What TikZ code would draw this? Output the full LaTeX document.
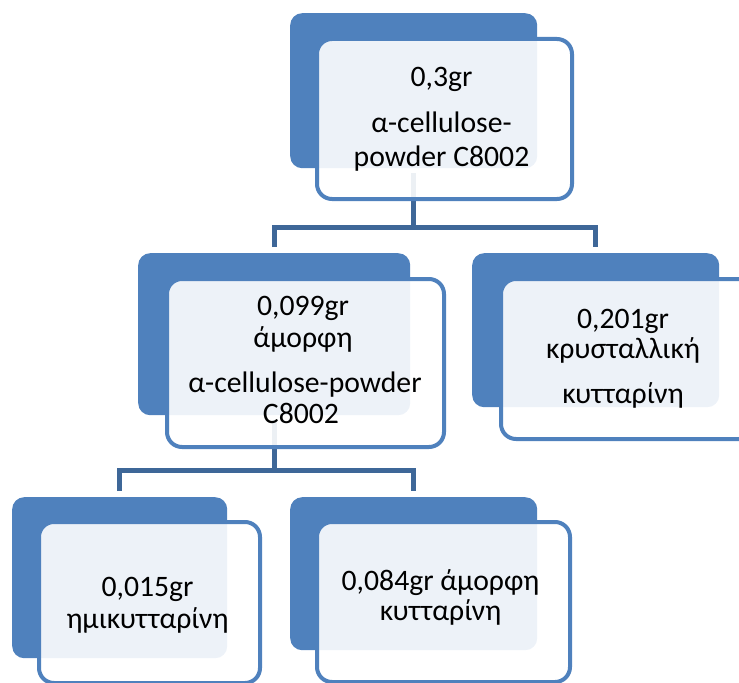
\documentclass[tikz,border=0pt]{standalone}
\usepackage{fontspec}
\setmainfont{Carlito}
\definecolor{boxblue}{RGB}{79,129,189}
\definecolor{linkblue}{RGB}{62,103,152}
\begin{document}
\begin{tikzpicture}[x=1bp,y=-1bp,
  backbox/.style={fill=boxblue, rounded corners=12bp, anchor=north west, inner sep=0pt},
  frontbox/.style={draw=boxblue, line width=4bp, fill=white, fill opacity=0.9, rounded corners=15bp, anchor=north west, inner sep=0pt},
  link/.style={draw=linkblue, line width=5bp},
  lbl/.style={anchor=base, inner sep=0pt, text=black, font=\fontsize{29.7bp}{32bp}\selectfont}]
\useasboundingbox (0,0) rectangle (739,683);
% back boxes
\node[backbox, minimum width=247bp, minimum height=155bp] (b1) at (290,13) {};
\node[backbox, minimum width=272bp, minimum height=162bp] (b2) at (138,253) {};
\node[backbox, minimum width=247bp, minimum height=154bp] (b3) at (472,253) {};
\node[backbox, minimum width=215bp, minimum height=161bp] (b4) at (12,497) {};
\node[backbox, minimum width=247bp, minimum height=153bp] (b5) at (290,497) {};
% connectors
\coordinate (j1) at (b1.south |- 0,227);
\coordinate (j2) at (b2.south |- 0,470);
\draw[link, shorten <=5bp] (b1.south) -- (j1);
\draw[link, shorten <=6bp, shorten >=6bp] (b2.north) |- (j1) -| (b3.north);
\draw[link, shorten <=5bp] (b2.south) -- (j2);
\draw[link, shorten <=6bp, shorten >=6bp] (b4.north) |- (j2) -| (b5.north);
% front boxes
\node[frontbox, minimum width=255bp, minimum height=160bp] (f1) at (315,37) {};
\node[frontbox, minimum width=277bp, minimum height=168bp] (f2) at (165,277) {};
\node[frontbox, minimum width=253bp, minimum height=160bp] (f3) at (499,277) {};
\node[frontbox, minimum width=221bp, minimum height=161bp] (f4) at (37,520) {};
\node[frontbox, minimum width=253bp, minimum height=160bp] (f5) at (315,520) {};
% texts
\node[lbl] (t1a) at (441.5,87) {0,3gr};
\node[lbl] (t1b) at (441.5,133) {α-cellulose-};
\node[lbl] (t1c) at (441.5,166) {powder C8002};
\node[lbl] (t2a) at (303,315) {0,099gr};
\node[lbl] (t2b) at (303,347) {άμορφη};
\node[lbl] (t2c) at (305,392) {α-cellulose-powder};
\node[lbl] (t2d) at (301,423) {C8002};
\node[lbl] (t3a) at (623,328) {0,201gr};
\node[lbl] (t3b) at (623,358) {κρυσταλλική};
\node[lbl] (t3c) at (623,403) {κυτταρίνη};
\node[lbl] (t4a) at (147.5,596) {0,015gr};
\node[lbl] (t4b) at (147.5,628) {ημικυτταρίνη};
\node[lbl] (t5a) at (440.5,590) {0,084gr άμορφη};
\node[lbl] (t5b) at (440.5,620) {κυτταρίνη};
\end{tikzpicture}
\end{document}
